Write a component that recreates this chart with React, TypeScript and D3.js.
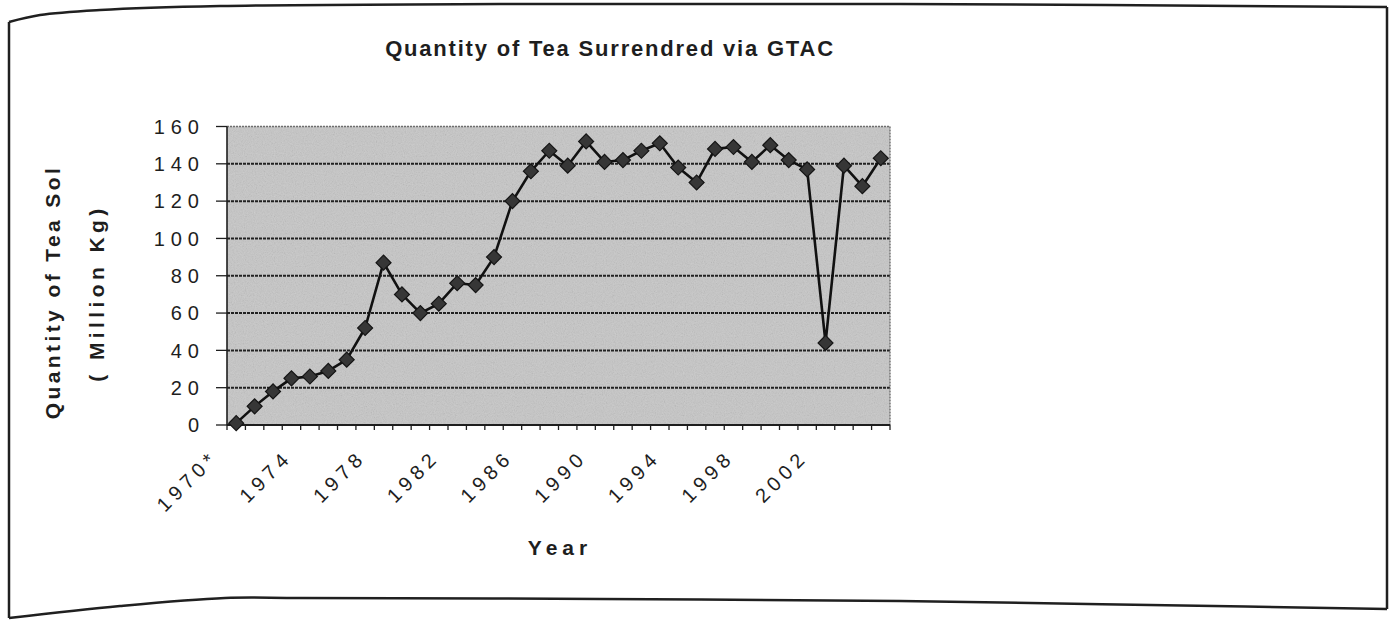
import React, { useRef, useEffect } from 'react';
import * as d3 from 'd3';

// Year categories on the x axis (first one footnoted in the source)
const years = [
  '1970*', '1971', '1972', '1973', '1974', '1975', '1976', '1977', '1978', '1979',
  '1980', '1981', '1982', '1983', '1984', '1985', '1986', '1987', '1988', '1989',
  '1990', '1991', '1992', '1993', '1994', '1995', '1996', '1997', '1998', '1999',
  '2000', '2001', '2002', '2003', '2004', '2005',
];

// Quantity of tea surrendered via GTAC (million kg)
const quantity = [
  1, 10, 18, 25, 26, 29, 35, 52, 87, 70,
  60, 65, 76, 75, 90, 120, 136, 147, 139, 152,
  141, 142, 147, 151, 138, 130, 148, 149, 141, 150,
  142, 137, 44, 139, 128, 143,
];

const xTickLabels = ['1970*', '1974', '1978', '1982', '1986', '1990', '1994', '1998', '2002'];
const yTicks = [0, 20, 40, 60, 80, 100, 120, 140, 160];

const WIDTH = 1389;
const HEIGHT = 621;
const FONT = "'Liberation Sans', Arial, sans-serif";
const INK = '#1e1e1e';

const App: React.FC = () => {
  const svgRef = useRef<SVGSVGElement>(null);

  useEffect(() => {
    if (!svgRef.current) return;
    const svg = d3.select(svgRef.current);
    svg.selectAll('*').remove();

    const plot = { left: 227, right: 890, top: 126.5, bottom: 425 };

    const x = d3.scaleBand<string>().domain(years).range([plot.left, plot.right]);
    const y = d3.scaleLinear().domain([0, 160]).range([plot.bottom, plot.top]);
    const cx = (cat: string) => (x(cat) as number) + x.bandwidth() / 2;

    // grain texture for the plot area (scanned look)
    const defs = svg.append('defs');
    const grain = defs.append('filter')
      .attr('id', 'grain')
      .attr('x', 0).attr('y', 0)
      .attr('width', '100%').attr('height', '100%');
    grain.append('feTurbulence')
      .attr('type', 'fractalNoise')
      .attr('baseFrequency', 0.9)
      .attr('numOctaves', 2)
      .attr('seed', 5);
    grain.append('feColorMatrix').attr('type', 'saturate').attr('values', 0);

    // outer frame (slightly warped like the scan)
    const frame = d3.line().curve(d3.curveCatmullRom);
    const frameG = svg.append('g')
      .attr('fill', 'none')
      .attr('stroke', '#202020')
      .attr('stroke-width', 2.5);
    frameG.append('path').attr('d', frame([[9, 22], [40, 15], [100, 10], [220, 6], [500, 4], [900, 4], [1387, 7]]));
    frameG.append('path').attr('d', frame([[1387, 7], [1387, 609]]));
    frameG.append('path').attr('d', frame([[1387, 609], [1150, 605], [900, 601], [600, 599], [300, 598], [225, 598], [120, 606], [9, 618]]));
    frameG.append('path').attr('d', frame([[9, 618], [9, 22]]));

    // plot background
    svg.append('rect')
      .attr('x', plot.left).attr('y', plot.top)
      .attr('width', plot.right - plot.left).attr('height', plot.bottom - plot.top)
      .attr('fill', '#c6c6c6');
    svg.append('rect')
      .attr('x', plot.left).attr('y', plot.top)
      .attr('width', plot.right - plot.left).attr('height', plot.bottom - plot.top)
      .attr('filter', 'url(#grain)')
      .attr('opacity', 0.3);

    // gridlines
    svg.append('g')
      .selectAll('line')
      .data(yTicks.filter(d => d > 0 && d < 160))
      .enter()
      .append('line')
      .attr('x1', plot.left).attr('x2', plot.right)
      .attr('y1', d => y(d)).attr('y2', d => y(d))
      .attr('stroke', '#222')
      .attr('stroke-width', 2)
      .attr('stroke-dasharray', '3,1');

    // plot border top / right
    svg.append('path')
      .attr('d', `M${plot.left},${plot.top}H${plot.right}V${plot.bottom}`)
      .attr('fill', 'none')
      .attr('stroke', '#6e6e6e')
      .attr('stroke-width', 1.4)
      .attr('stroke-dasharray', '2,1');

    // axes lines
    svg.append('line')
      .attr('x1', plot.left).attr('x2', plot.right)
      .attr('y1', plot.bottom).attr('y2', plot.bottom)
      .attr('stroke', INK).attr('stroke-width', 2);
    svg.append('line')
      .attr('x1', plot.left).attr('x2', plot.left)
      .attr('y1', plot.top).attr('y2', plot.bottom)
      .attr('stroke', INK).attr('stroke-width', 1.6);

    // y tick marks + labels
    svg.append('g')
      .selectAll('line')
      .data(yTicks)
      .enter()
      .append('line')
      .attr('x1', plot.left - 11).attr('x2', plot.left)
      .attr('y1', d => y(d)).attr('y2', d => y(d))
      .attr('stroke', INK).attr('stroke-width', 1.3);

    const ySpacing = 6;
    svg.append('g')
      .selectAll('text')
      .data(yTicks)
      .enter()
      .append('text')
      .attr('x', 199 + ySpacing)
      .attr('y', d => y(d))
      .attr('dy', '0.36em')
      .attr('text-anchor', 'end')
      .attr('font-family', FONT)
      .attr('font-size', 20)
      .attr('letter-spacing', ySpacing)
      .attr('fill', INK)
      .text(d => d.toString());

    // x tick marks at category boundaries
    const boundaries = years.map(c => x(c) as number).concat([plot.right]);
    svg.append('g')
      .selectAll('line')
      .data(boundaries)
      .enter()
      .append('line')
      .attr('x1', d => d).attr('x2', d => d)
      .attr('y1', plot.bottom).attr('y2', plot.bottom + 5)
      .attr('stroke', INK).attr('stroke-width', 1.3);

    // rotated year labels
    const xSpacing = 5;
    svg.append('g')
      .selectAll('text')
      .data(xTickLabels)
      .enter()
      .append('text')
      .attr('transform', d => `translate(${cx(d) - 20},${plot.bottom + 37}) rotate(-45)`)
      .attr('dx', xSpacing)
      .attr('text-anchor', 'end')
      .attr('font-family', FONT)
      .attr('font-size', 20)
      .attr('letter-spacing', xSpacing)
      .attr('fill', INK)
      .text(d => d);

    // series line
    const line = d3.line<number>()
      .x((d, i) => cx(years[i]))
      .y(d => y(d));
    svg.append('path')
      .datum(quantity)
      .attr('d', line)
      .attr('fill', 'none')
      .attr('stroke', '#111')
      .attr('stroke-width', 2.6)
      .attr('stroke-linejoin', 'round');

    // diamond markers
    const diamond = d3.symbol().type(d3.symbolSquare).size(112);
    svg.append('g')
      .selectAll('path')
      .data(quantity)
      .enter()
      .append('path')
      .attr('d', diamond as any)
      .attr('transform', (d, i) => `translate(${cx(years[i])},${y(d)}) rotate(45)`)
      .attr('fill', '#363636')
      .attr('stroke', '#151515')
      .attr('stroke-width', 1.2);

    // title
    svg.append('text')
      .attr('x', 610)
      .attr('y', 56)
      .attr('text-anchor', 'middle')
      .attr('font-family', FONT)
      .attr('font-size', 22)
      .attr('font-weight', 'bold')
      .attr('letter-spacing', 1.8)
      .attr('fill', INK)
      .text('Quantity of Tea Surrendred via GTAC');

    // y axis title (two lines)
    svg.append('text')
      .attr('transform', 'translate(60,292) rotate(-90)')
      .attr('text-anchor', 'middle')
      .attr('font-family', FONT)
      .attr('font-size', 21)
      .attr('font-weight', 'bold')
      .attr('letter-spacing', 3.4)
      .attr('fill', INK)
      .text('Quantity of Tea Sol');
    svg.append('text')
      .attr('transform', 'translate(104,293) rotate(-90)')
      .attr('text-anchor', 'middle')
      .attr('font-family', FONT)
      .attr('font-size', 21)
      .attr('font-weight', 'bold')
      .attr('letter-spacing', 4.4)
      .attr('fill', INK)
      .text('( Million Kg)');

    // x axis title
    svg.append('text')
      .attr('x', 560)
      .attr('y', 555)
      .attr('text-anchor', 'middle')
      .attr('font-family', FONT)
      .attr('font-size', 21)
      .attr('font-weight', 'bold')
      .attr('letter-spacing', 5)
      .attr('fill', INK)
      .text('Year');
  }, []);

  return (
    <svg
      ref={svgRef}
      width={WIDTH}
      height={HEIGHT}
      style={{ position: 'absolute', left: 0, top: 0, background: '#fff' }}
    />
  );
};

export default App;
